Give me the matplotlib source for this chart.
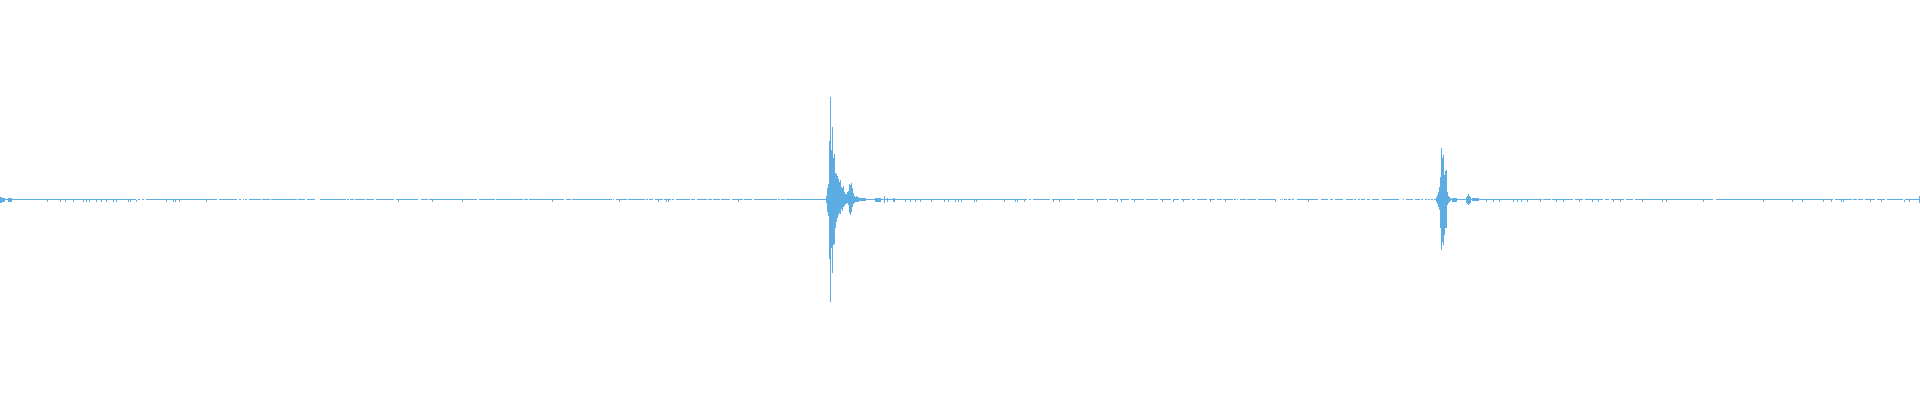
import matplotlib
matplotlib.use("Agg")
import matplotlib.pyplot as plt
import numpy as np

WAVE_COLOR = "#5DADE2"

# big hit: columns and envelope (amplitude above / below centre)
hit1_x = [826, 827, 828, 829, 830, 831, 832, 833, 834, 835, 836, 837, 838, 839,
          840, 841, 842, 843, 844, 845, 846, 847, 848, 849, 850, 851, 852, 853,
          854, 855, 856, 857, 858, 859, 860, 861, 862, 863, 864, 865]
hit1_top = [3.5, 11.5, 15.5, 58.5, 102.5, 49.5, 72.5, 41.5, 45.5, 26.5, 25.5, 23.5,
            20.5, 17.5, 19.5, 12.5, 11.5, 13.5, 7.5, 5.5, 5.5, 7.5, 8.5, 15.5, 14.5,
            16.5, 11.5, 6.5, 3.5, 2.5, 3.5, 2.5, 2.5, 1.5, 1.5, 1.5, 1.5, 1.5, 1.5, 1.5]
hit1_bot = [3.5, 12.5, 16.5, 59.5, 102.5, 48.5, 73.5, 45.5, 44.5, 28.5, 22.5, 18.5,
            15.5, 13.5, 14.5, 9.5, 11.5, 7.5, 6.5, 4.5, 4.5, 3.5, 5.5, 13.5, 15.5,
            12.5, 7.5, 4.5, 3.5, 2.5, 2.5, 2.5, 2.5, 1.5, 1.5, 1.5, 1.5, 1.5, 1.5, 1.5]

# second, smaller hit
hit2_x = [1436, 1437, 1438, 1439, 1440, 1441, 1442, 1443, 1444, 1445, 1446, 1447,
          1448, 1449, 1450]
hit2_top = [2.5, 4.5, 7.5, 12.5, 22.5, 51.5, 41.5, 44.5, 24.5, 28.5, 29.5, 7.5,
            3.5, 2.5, 1.5]
hit2_bot = [2.5, 4.5, 7.5, 10.5, 28.5, 50.5, 42.5, 45.5, 35.5, 28.5, 28.5, 5.5,
            3.5, 2.5, 1.5]

# small bursts elsewhere
minor_x = [0, 1, 2, 3, 4, 8, 9, 10, 11, 875, 876, 877, 878, 879, 880, 884, 887,
           893, 894, 1452, 1453, 1454, 1455, 1456, 1466, 1467, 1468, 1469, 1470,
           1472, 1473, 1474, 1475, 1476, 1477, 1478, 1919]
minor_top = [3, 3, 2, 1.5, 1.5, 1.5, 1.5, 1.5, 1.5, 2, 2, 2, 2, 2, 2, 3.5, 2,
             2, 2, 2, 2, 2, 2, 2, 2.5, 3.5, 5.5, 3.5, 2.5,
             1.5, 1.5, 1.5, 1.5, 1.5, 1.5, 1.5, 3.5]
minor_bot = [3.5, 3.5, 2.5, 2, 2, 2, 2, 2, 2, 2, 2, 2, 2, 2, 2, 3.5, 2.5,
             2, 2, 2.5, 2.5, 2.5, 2.5, 2.5, 3, 4, 5.5, 4, 3,
             1.5, 1.5, 1.5, 1.5, 1.5, 1.5, 1.5, 3.5]

# one-pixel ticks below the line
tick_x = [47, 60, 65, 73, 83, 86, 89, 96, 101, 106, 113, 116, 128, 130, 136, 166,
          173, 175, 179, 206, 398, 432, 462, 552, 619, 658, 666, 668, 738,
          905, 910, 915, 920, 931, 944, 948, 955, 958, 961, 974, 976, 1004, 1015,
          1017, 1024, 1053, 1059, 1097, 1117, 1121, 1134, 1162, 1173, 1183, 1210,
          1225, 1275, 1308, 1486, 1493, 1499, 1513, 1517, 1521, 1527, 1540, 1556,
          1563, 1579, 1592, 1598, 1613, 1620, 1642, 1662, 1666, 1703, 1763, 1792,
          1802, 1823, 1831, 1841, 1843, 1870, 1881, 1904, 1909]

# silent stretches where the line is not drawn
gaps = [(136, 138), (140, 142), (144, 146), (217, 219), (237, 239), (241, 243),
        (244, 245), (247, 249), (261, 262), (270, 271), (297, 298), (305, 307),
        (315, 320), (346, 347), (349, 350), (354, 355), (365, 366), (374, 376),
        (394, 396), (418, 421), (428, 429), (477, 479), (495, 496), (523, 524),
        (528, 529), (564, 566), (571, 572), (612, 613), (614, 616), (627, 628),
        (645, 646), (648, 649), (653, 655), (663, 664), (671, 672), (674, 676),
        (690, 691), (695, 697), (707, 708), (712, 713), (720, 721), (730, 732),
        (743, 744), (752, 754), (777, 778), (780, 781), (785, 786),
        (1027, 1029), (1031, 1033), (1050, 1052), (1075, 1077), (1094, 1096),
        (1107, 1109), (1118, 1120), (1129, 1131), (1144, 1146), (1158, 1160),
        (1171, 1173), (1179, 1181), (1190, 1192), (1195, 1197), (1207, 1209),
        (1215, 1217), (1222, 1223), (1233, 1234), (1236, 1237), (1238, 1240),
        (1246, 1247), (1256, 1258), (1276, 1280), (1281, 1282), (1283, 1284),
        (1287, 1288), (1291, 1292), (1294, 1297), (1318, 1321), (1328, 1330),
        (1333, 1335), (1343, 1346), (1353, 1354), (1356, 1358), (1360, 1361),
        (1365, 1367), (1370, 1372), (1379, 1382), (1399, 1403), (1404, 1406),
        (1413, 1415), (1420, 1421), (1423, 1425), (1427, 1428), (1430, 1431),
        (1433, 1434), (1542, 1543), (1551, 1552), (1573, 1575), (1583, 1585),
        (1603, 1605), (1609, 1611), (1624, 1626), (1633, 1635), (1713, 1716),
        (1833, 1835), (1852, 1853), (1857, 1858), (1863, 1865), (1875, 1877),
        (1885, 1887), (1903, 1905)]

n_cols = 1920

fig = plt.figure(figsize=(19.2, 4), dpi=100)
ax = fig.add_axes([0, 0, 1, 1])

# centre line, broken where the signal is silent
segs = []
start = 0
for g0, g1 in gaps:
    segs.append((start, g0 - start))
    start = g1
segs.append((start, n_cols - start))
ax.broken_barh(segs, (-0.6, 1.2), facecolors=WAVE_COLOR, linewidth=0)

ax.bar(tick_x, 2.0, bottom=-2.0, width=1, align="edge", color=WAVE_COLOR, linewidth=0)

for xs, top, bot in [(minor_x, minor_top, minor_bot),
                     (hit1_x, hit1_top, hit1_bot),
                     (hit2_x, hit2_top, hit2_bot)]:
    top = np.array(top)
    bot = np.array(bot)
    ax.bar(xs, top + bot, bottom=-bot, width=1, align="edge",
           color=WAVE_COLOR, linewidth=0)

ax.set_xlim(0, n_cols)
ax.set_ylim(-200.5, 199.5)
ax.axis("off")

fig.savefig("out.png", dpi=100, facecolor="white")
